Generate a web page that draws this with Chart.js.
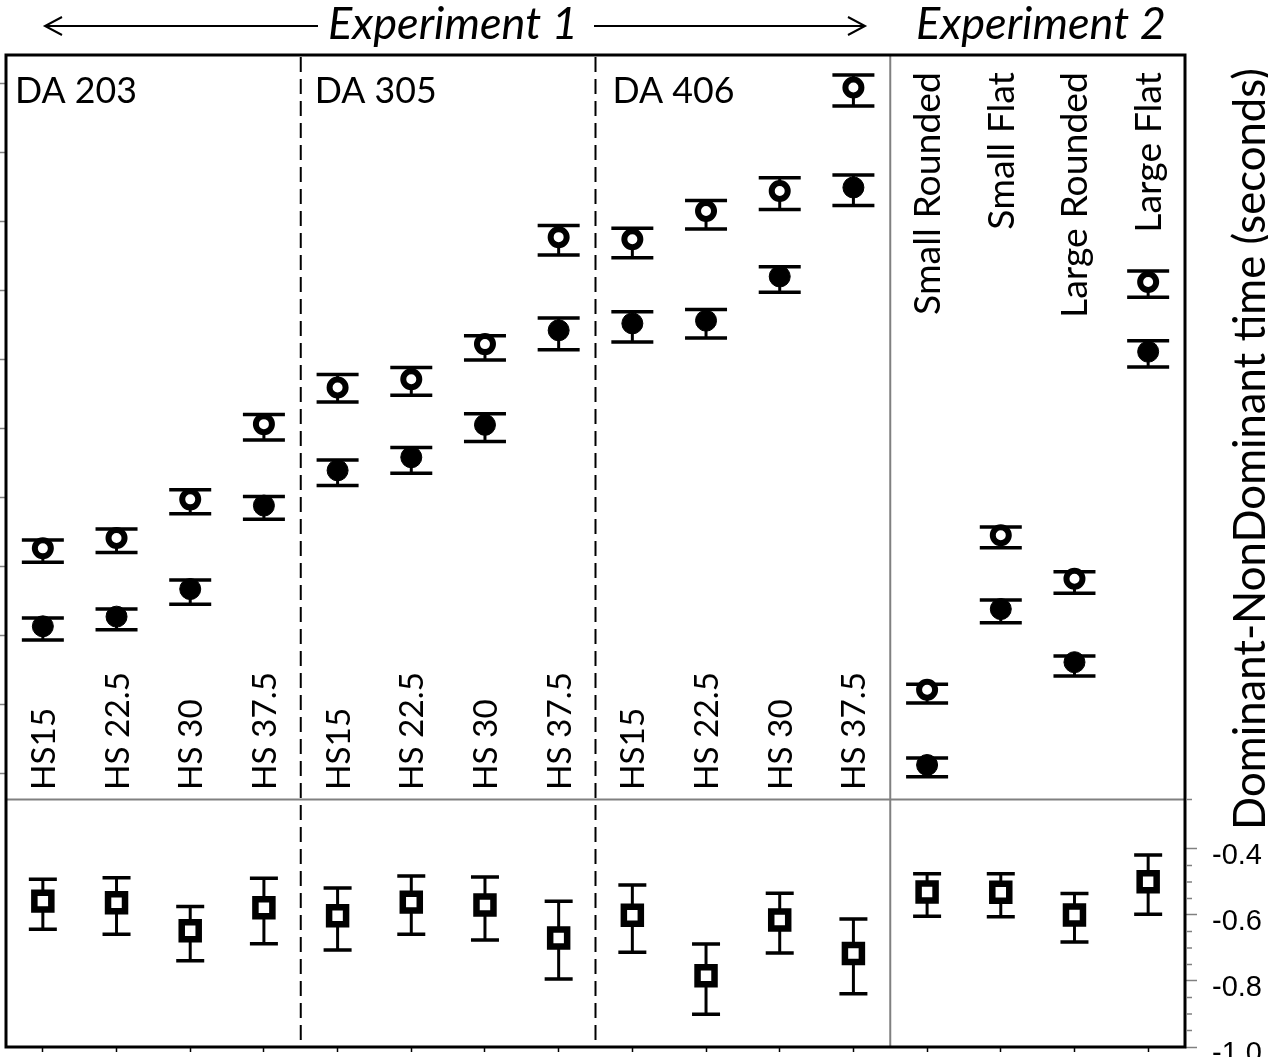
<!DOCTYPE html>
<html><head><meta charset="utf-8">
<script src="https://cdn.jsdelivr.net/npm/chart.js@4.4.1/dist/chart.umd.min.js"></script>
<style>html,body{margin:0;padding:0;background:#fff;overflow:hidden}#wrap{position:relative;width:1268px;height:1057px}</style>
</head><body><div id="wrap"><canvas id="c" width="1268" height="1057"></canvas></div>
<script>
// ---------- data ----------
const categories = ['HS15','HS 22.5','HS 30','HS 37.5','HS15','HS 22.5','HS 30','HS 37.5','HS15','HS 22.5','HS 30','HS 37.5','Small Rounded','Small Flat','Large Rounded','Large Flat'];
const groupLabels = ['DA 203','DA 305','DA 406'];
const experimentLabels = ['Experiment 1','Experiment 2'];
const axisTitle = 'Dominant-NonDominant time (seconds)';

const openMean   = [0.427,0.442,0.498,0.607, 0.660,0.672,0.723,0.878, 0.875,0.916,0.945,1.095, 0.222,0.446,0.383,0.813];
const openHi     = [0.439,0.455,0.512,0.621, 0.679,0.689,0.735,0.895, 0.891,0.931,0.964,1.113, 0.230,0.458,0.393,0.829];
const openLo     = [0.407,0.421,0.477,0.584, 0.639,0.649,0.700,0.852, 0.848,0.890,0.918,1.068, 0.203,0.428,0.362,0.791];
const filledMean = [0.314,0.328,0.368,0.489, 0.540,0.559,0.606,0.743, 0.753,0.757,0.821,0.950, 0.113,0.339,0.262,0.712];
const filledHi   = [0.326,0.339,0.381,0.502, 0.555,0.573,0.622,0.761, 0.770,0.773,0.835,0.968, 0.123,0.352,0.271,0.728];
const filledLo   = [0.294,0.309,0.346,0.469, 0.518,0.536,0.582,0.715, 0.726,0.732,0.798,0.924, 0.096,0.319,0.242,0.690];
const diffMean   = [-0.558,-0.563,-0.648,-0.578, -0.602,-0.561,-0.570,-0.670, -0.601,-0.784,-0.615,-0.717, -0.530,-0.531,-0.600,-0.499];
const diffHi     = [-0.492,-0.487,-0.574,-0.489, -0.518,-0.482,-0.485,-0.558, -0.509,-0.688,-0.534,-0.612, -0.475,-0.475,-0.535,-0.418];
const diffLo     = [-0.643,-0.658,-0.739,-0.687, -0.706,-0.658,-0.676,-0.794, -0.713,-0.901,-0.715,-0.839, -0.604,-0.605,-0.682,-0.598];

const leftTicks = [0.1,0.2,0.3,0.4,0.5,0.6,0.7,0.8,0.9,1.0,1.1];
const rightTicks = [-1.0,-0.8,-0.6,-0.4];
const rightMinorTicks = [-0.95,-0.9,-0.85,-0.75,-0.7,-0.65,-0.55,-0.5,-0.45,-0.25];
const groupBreaks = [3.5, 7.5];
const experimentBreak = 11.5;
const panelBreak = -0.25; // on right axis

const FONT = 'Lato, "Open Sans", sans-serif';

function fitSize(ctx, text, style, target){
  ctx.font = style + ' 100px ' + FONT;
  return 100 * target / ctx.measureText(text).width;
}
function rotText(ctx, text, x, y, align){
  ctx.save(); ctx.translate(x, y); ctx.rotate(-Math.PI/2);
  ctx.textAlign = align; ctx.textBaseline = 'alphabetic';
  ctx.fillText(text, 0, 0); ctx.restore();
}
function noPad(s){ s.paddingTop = 0; s.paddingBottom = 0; s.paddingLeft = 0; s.paddingRight = 0; }

const backgroundPlugin = {
  id: 'bgLines',
  beforeDatasetsDraw(chart){
    const {ctx, chartArea: a, scales} = chart;
    ctx.save();
    const yb = scales.yR.getPixelForValue(panelBreak);
    ctx.strokeStyle = '#808080'; ctx.lineWidth = 2;
    ctx.beginPath(); ctx.moveTo(a.left, yb); ctx.lineTo(a.right, yb); ctx.stroke();
    const xe = scales.x.getPixelForValue(experimentBreak);
    ctx.beginPath(); ctx.moveTo(xe, a.top); ctx.lineTo(xe, a.bottom); ctx.stroke();
    ctx.strokeStyle = '#000'; ctx.lineWidth = 2; ctx.setLineDash([15, 7]);
    groupBreaks.forEach(v => {
      const x = scales.x.getPixelForValue(v);
      ctx.beginPath(); ctx.moveTo(x, a.top + 2); ctx.lineTo(x, a.bottom); ctx.stroke();
    });
    ctx.setLineDash([]);
    chart.data.datasets.forEach(ds => {
      const ys = scales[ds.yAxisID];
      ds.data.forEach((p, i) => {
        const px = scales.x.getPixelForValue(p.x);
        const yh = ys.getPixelForValue(ds.errHi[i]);
        const yl = ys.getPixelForValue(ds.errLo[i]);
        ctx.strokeStyle = '#000';
        ctx.lineWidth = 3;
        ctx.beginPath(); ctx.moveTo(px, yh); ctx.lineTo(px, yl); ctx.stroke();
        ctx.lineWidth = 3.5;
        const hw = ds.capHalf;
        ctx.beginPath();
        ctx.moveTo(px - hw, yh); ctx.lineTo(px + hw, yh);
        ctx.moveTo(px - hw, yl); ctx.lineTo(px + hw, yl);
        ctx.stroke();
      });
    });
    ctx.restore();
  }
};

const overlayPlugin = {
  id: 'overlay',
  afterDraw(chart){
    const {ctx, chartArea: a, scales} = chart;
    ctx.save();
    ctx.strokeStyle = '#000'; ctx.lineWidth = 3;
    ctx.strokeRect(a.left, a.top, a.right - a.left, a.bottom - a.top);
    ctx.strokeStyle = '#808080'; ctx.lineWidth = 1.5;
    rightMinorTicks.forEach(v => {
      const y = scales.yR.getPixelForValue(v);
      ctx.beginPath(); ctx.moveTo(a.right + 1, y); ctx.lineTo(a.right + 7, y); ctx.stroke();
    });
    ctx.fillStyle = '#000';
    const es = fitSize(ctx, experimentLabels[0], 'italic', 250);
    ctx.font = 'italic ' + es + 'px ' + FONT;
    ctx.textAlign = 'center'; ctx.textBaseline = 'alphabetic';
    ctx.fillText(experimentLabels[0], 453, 39);
    ctx.fillText(experimentLabels[1], 1041, 39);
    ctx.strokeStyle = '#000'; ctx.lineWidth = 2;
    ctx.beginPath();
    ctx.moveTo(45, 26); ctx.lineTo(318, 26);
    ctx.moveTo(62, 17); ctx.lineTo(45, 26); ctx.lineTo(62, 35);
    ctx.moveTo(594, 26); ctx.lineTo(865, 26);
    ctx.moveTo(848, 17); ctx.lineTo(865, 26); ctx.lineTo(848, 35);
    ctx.stroke();
    const ds = fitSize(ctx, groupLabels[0], 'normal', 122);
    ctx.font = ds + 'px ' + FONT; ctx.textAlign = 'left';
    const gx = [scales.x.getPixelForValue(-0.5) + 9, scales.x.getPixelForValue(groupBreaks[0]) + 14, scales.x.getPixelForValue(groupBreaks[1]) + 17];
    groupLabels.forEach((t, i) => ctx.fillText(t, gx[i], 103));
    const hs = fitSize(ctx, 'HS 22.5', 'normal', 118);
    const xs = fitSize(ctx, 'Small Rounded', 'normal', 243);
    categories.forEach((t, i) => {
      const px = scales.x.getPixelForValue(i);
      if (i < 12) { ctx.font = hs + 'px ' + FONT; rotText(ctx, t, px + 12, 790, 'left'); }
      else { ctx.font = xs + 'px ' + FONT; rotText(ctx, t, px + 13, 72, 'right'); }
    });
    const ts = fitSize(ctx, axisTitle, 'normal', 762);
    ctx.font = ts + 'px ' + FONT;
    rotText(ctx, axisTitle, 1265, 449, 'center');
    ctx.restore();
  }
};

new Chart(document.getElementById('c'), {
  type: 'scatter',
  data: {
    datasets: [
      { label: 'open', yAxisID: 'yL', data: openMean.map((v, i) => ({x: i, y: v})), errHi: openHi, errLo: openLo, capHalf: 21,
        pointStyle: 'circle', pointRadius: 8, pointBorderWidth: 6, pointBackgroundColor: '#fff', pointBorderColor: '#000' },
      { label: 'filled', yAxisID: 'yL', data: filledMean.map((v, i) => ({x: i, y: v})), errHi: filledHi, errLo: filledLo, capHalf: 21,
        pointStyle: 'circle', pointRadius: 10.5, pointBorderWidth: 1, pointBackgroundColor: '#000', pointBorderColor: '#000' },
      { label: 'diff', yAxisID: 'yR', data: diffMean.map((v, i) => ({x: i, y: v})), errHi: diffHi, errLo: diffLo, capHalf: 14,
        pointStyle: 'rect', pointRadius: 12, pointBorderWidth: 6.5, pointBackgroundColor: '#fff', pointBorderColor: '#000' }
    ]
  },
  options: {
    responsive: false, animation: false, devicePixelRatio: 1,
    layout: { autoPadding: false, padding: { top: 55, left: 0, right: 0, bottom: 0 } },
    plugins: { legend: { display: false }, tooltip: { enabled: false } },
    scales: {
      x: { type: 'linear', min: -0.5, max: 15.5, position: 'bottom',
        afterBuildTicks: s => { s.ticks = categories.map((_, i) => ({value: i})); },
        afterFit: s => { s.height = 10; noPad(s); },
        ticks: { display: false },
        grid: { drawOnChartArea: false, drawTicks: true, tickLength: 5, color: '#000', tickWidth: 1.5 },
        border: { display: false } },
      yL: { type: 'linear', position: 'left', min: -0.2957, max: 1.142,
        afterBuildTicks: s => { s.ticks = leftTicks.map(v => ({value: v})); },
        afterFit: s => { s.width = 6; noPad(s); },
        ticks: { display: false },
        grid: { drawOnChartArea: false, drawTicks: true, tickLength: 6, color: '#808080', tickWidth: 1.5 },
        border: { display: false } },
      yR: { type: 'linear', position: 'right', min: -1.0, max: 2.006,
        afterBuildTicks: s => { s.ticks = rightTicks.map(v => ({value: v})); },
        afterFit: s => { s.width = 83; noPad(s); },
        ticks: { display: true, autoSkip: false, padding: 15, labelOffset: 7, color: '#000',
          font: { family: '"Liberation Sans", Arial, sans-serif', size: 29 },
          callback: v => v.toFixed(1) },
        grid: { drawOnChartArea: false, drawTicks: true, tickLength: 12, color: '#808080', tickWidth: 1.5 },
        border: { display: false } }
    }
  },
  plugins: [backgroundPlugin, overlayPlugin]
});
</script></body></html>
